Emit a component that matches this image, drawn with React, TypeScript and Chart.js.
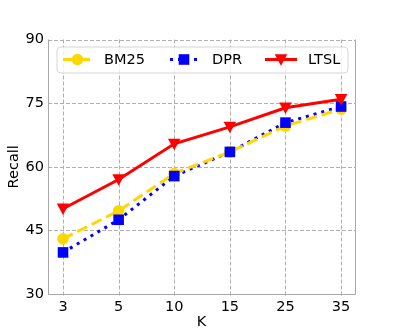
import React, { useEffect, useRef } from "react";
import { Chart, registerables } from "chart.js";
Chart.register(...registerables);

const categories = ["3", "5", "10", "15", "25", "35"];
const bm25 = [43, 49.6, 58.4, 63.5, 69.6, 73.6];
const dpr = [39.8, 47.5, 57.8, 63.5, 70.4, 74.2];
const ltsl = [50.1, 57.0, 65.4, 69.4, 73.9, 75.9];
const yTicks = [30, 45, 60, 75, 90];

const FONT = "'DejaVu Sans', sans-serif";

const seriesMeta = [
  { label: "BM25", color: "#FFD700", dash: [11, 5], style: "circle" },
  { label: "DPR", color: "#0000FF", dash: [3, 5], style: "rect" },
  { label: "LTSL", color: "#FF0000", dash: [], style: "triangle" },
];

function drawMarker(ctx: CanvasRenderingContext2D, style: string, x: number, y: number, color: string) {
  ctx.save();
  ctx.fillStyle = color;
  ctx.beginPath();
  if (style === "circle") {
    ctx.arc(x, y, 5.8, 0, Math.PI * 2);
  } else if (style === "rect") {
    ctx.rect(x - 5.3, y - 5.3, 10.6, 10.6);
  } else {
    ctx.moveTo(x - 6.3, y - 5.2);
    ctx.lineTo(x + 6.3, y - 5.2);
    ctx.lineTo(x, y + 6.3);
    ctx.closePath();
  }
  ctx.fill();
  ctx.restore();
}

const overlayPlugin = {
  id: "overlay",
  beforeDatasetsDraw(chart: any) {
    const { ctx, chartArea: a } = chart;
    const xs = chart.scales.x;
    const ys = chart.scales.y;
    ctx.save();
    ctx.strokeStyle = "#b0b0b0";
    ctx.lineWidth = 1;
    ctx.setLineDash([4, 2]);
    categories.forEach((_, i) => {
      const px = Math.round(xs.getPixelForValue(i)) + 0.5;
      ctx.beginPath();
      ctx.moveTo(px, a.top);
      ctx.lineTo(px, a.bottom + 3);
      ctx.stroke();
    });
    yTicks.forEach((v) => {
      const py = Math.round(ys.getPixelForValue(v)) + 0.5;
      ctx.beginPath();
      ctx.moveTo(a.left, py);
      ctx.lineTo(a.right, py);
      ctx.stroke();
    });
    ctx.strokeStyle = "#a8a8a8";
    ctx.setLineDash([]);
    ctx.beginPath();
    ctx.moveTo(a.left + 0.5, a.top);
    ctx.lineTo(a.left + 0.5, a.bottom + 0.5);
    ctx.lineTo(a.right + 0.5, a.bottom + 0.5);
    ctx.lineTo(a.right + 0.5, a.top);
    ctx.stroke();
    ctx.restore();
  },
  afterDatasetsDraw(chart: any) {
    const { ctx } = chart;
    chart.data.datasets.forEach((ds: any, i: number) => {
      const meta = chart.getDatasetMeta(i);
      meta.data.forEach((pt: any) => {
        drawMarker(ctx, seriesMeta[i].style, pt.x, pt.y, seriesMeta[i].color);
      });
    });
    ctx.save();
    const lx = 57, ly = 47, lw = 291, lh = 26, r = 4;
    ctx.beginPath();
    ctx.moveTo(lx + r, ly);
    ctx.lineTo(lx + lw - r, ly);
    ctx.quadraticCurveTo(lx + lw, ly, lx + lw, ly + r);
    ctx.lineTo(lx + lw, ly + lh - r);
    ctx.quadraticCurveTo(lx + lw, ly + lh, lx + lw - r, ly + lh);
    ctx.lineTo(lx + r, ly + lh);
    ctx.quadraticCurveTo(lx, ly + lh, lx, ly + lh - r);
    ctx.lineTo(lx, ly + r);
    ctx.quadraticCurveTo(lx, ly, lx + r, ly);
    ctx.closePath();
    ctx.fillStyle = "rgba(255,255,255,0.8)";
    ctx.fill();
    ctx.strokeStyle = "#d6d6d6";
    ctx.lineWidth = 1;
    ctx.stroke();
    const items = [
      { x0: 63, x1: 92, tx: 104 },
      { x0: 170, x1: 198, tx: 212 },
      { x0: 265, x1: 297, tx: 308 },
    ];
    const cy = 59.5;
    items.forEach((it, i) => {
      const m = seriesMeta[i];
      ctx.strokeStyle = m.color;
      ctx.lineWidth = 3;
      ctx.setLineDash(m.dash);
      ctx.beginPath();
      ctx.moveTo(it.x0, cy);
      ctx.lineTo(it.x1, cy);
      ctx.stroke();
      ctx.setLineDash([]);
      drawMarker(ctx, m.style, (it.x0 + it.x1) / 2, cy, m.color);
      ctx.fillStyle = "#000";
      ctx.font = `14.5px ${FONT}`;
      ctx.textBaseline = "middle";
      ctx.textAlign = "left";
      ctx.fillText(m.label, it.tx, cy + 0.5);
    });
    ctx.restore();
  },
};

export default function App() {
  const ref = useRef<HTMLCanvasElement>(null);
  useEffect(() => {
    document.body.style.margin = "0";
    const series = [bm25, dpr, ltsl];
    const chart = new Chart(ref.current!, {
      type: "line",
      data: {
        datasets: series.map((vals, i) => ({
          label: seriesMeta[i].label,
          data: vals.map((v, j) => ({ x: j, y: v })),
          borderColor: seriesMeta[i].color,
          backgroundColor: seriesMeta[i].color,
          borderWidth: 3,
          borderDash: seriesMeta[i].dash,
          pointRadius: 0,
          fill: false,
          tension: 0,
        })),
      },
      options: {
        animation: false,
        responsive: false,
        devicePixelRatio: 1,
        layout: { padding: { top: 39.5, right: 40, left: 0, bottom: 0 } },
        plugins: { legend: { display: false }, tooltip: { enabled: false } },
        scales: {
          x: {
            type: "linear",
            min: -0.27,
            max: 5.25,
            afterFit: (s: any) => { s.height = 37; },
            afterBuildTicks: (s: any) => { s.ticks = categories.map((_, i) => ({ value: i })); },
            ticks: {
              callback: (v: any) => categories[v as number] ?? "",
              font: { family: FONT, size: 14.5 },
              color: "#000",
              padding: 5,
              maxRotation: 0,
              autoSkip: false,
            },
            grid: { display: false, drawTicks: false },
            border: { display: false },
            title: { display: true, text: "K", font: { family: FONT, size: 14.5 }, color: "#000", padding: { bottom: 0, top: 0 } },
          },
          y: {
            min: 30,
            max: 90,
            afterFit: (s: any) => { s.width = 48; },
            afterBuildTicks: (s: any) => { s.ticks = yTicks.map((v) => ({ value: v })); },
            ticks: {
              font: { family: FONT, size: 14.5 },
              color: "#000",
              padding: 4,
            },
            grid: { display: false, drawTicks: false },
            border: { display: false },
            title: { display: true, text: "Recall", font: { family: FONT, size: 14.5 }, color: "#000", padding: { top: 6, bottom: 0 } },
          },
        },
      },
      plugins: [overlayPlugin],
    } as any);
    return () => chart.destroy();
  }, []);
  return <canvas ref={ref} width={395} height={331} style={{ display: "block" }} />;
}
